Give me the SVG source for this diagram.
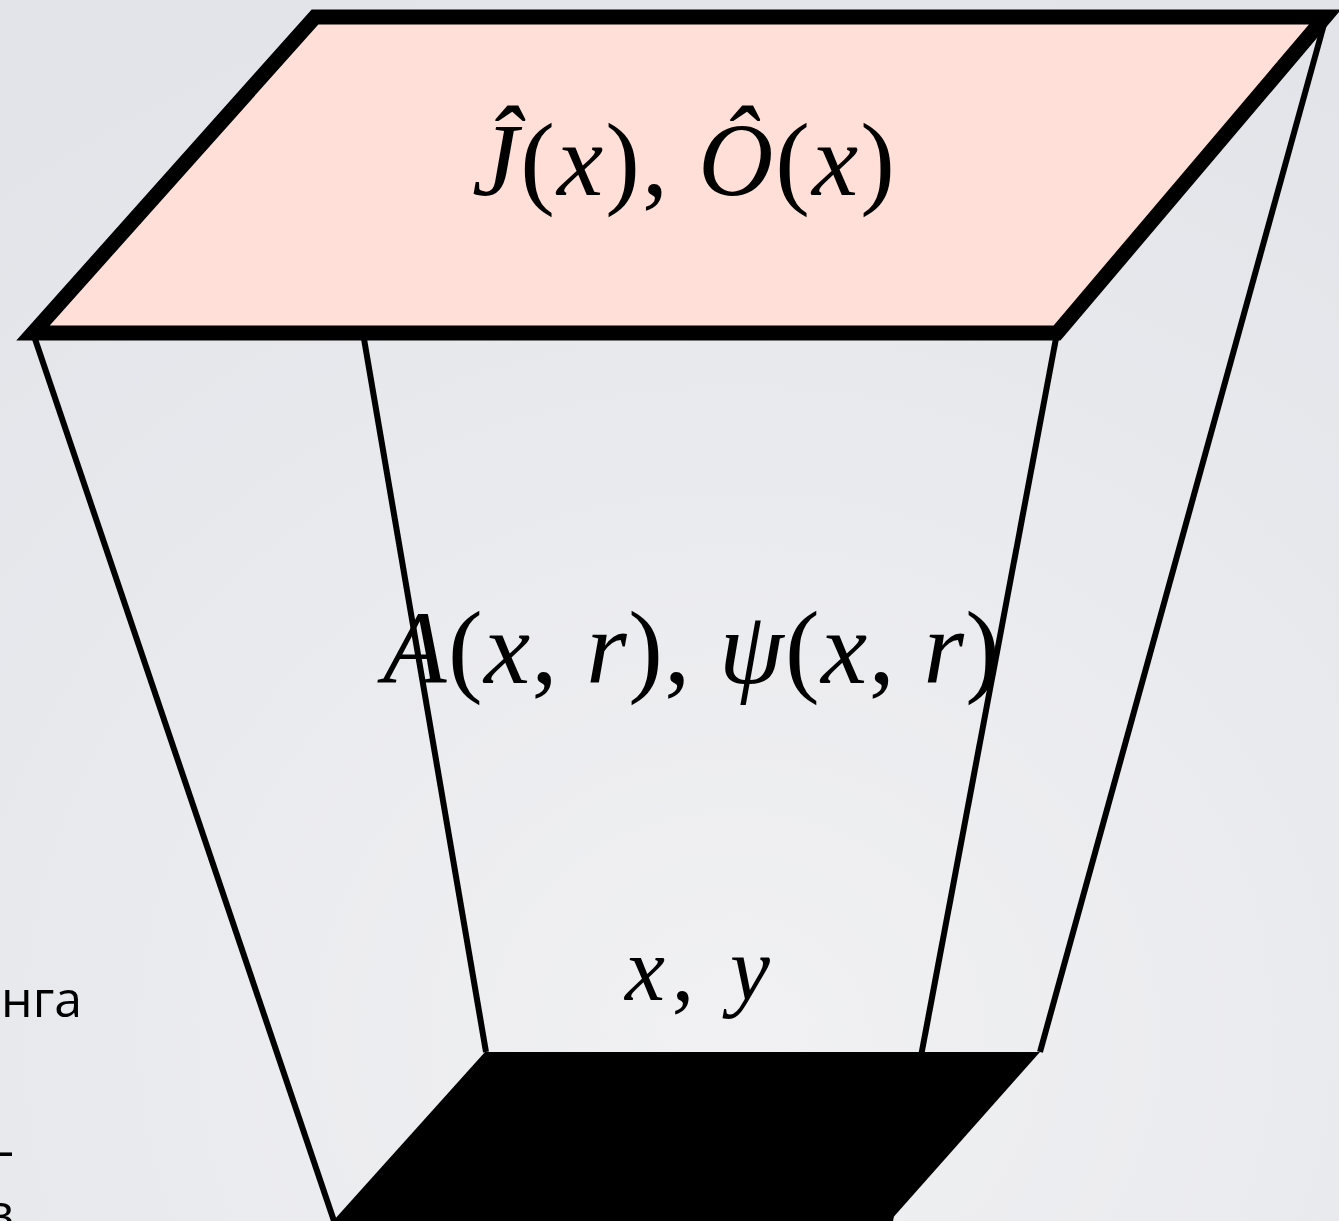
<svg xmlns="http://www.w3.org/2000/svg" width="1339" height="1221" viewBox="0 0 1339 1221">
<defs>
<radialGradient id="bg" cx="0.55" cy="0.85" r="0.9">
<stop offset="0" stop-color="#F1F1F3"/>
<stop offset="1" stop-color="#E2E4E9"/>
</radialGradient>
</defs>
<style>
.edge{stroke:#000;stroke-width:6;fill:none;stroke-linecap:butt}
.math{fill:#000}
.side{fill:#000;font-size:50px}
</style>
<rect x="0" y="0" width="1339" height="1221" fill="url(#bg)"/>
<g id="side-text">
<text class="side" font-family="'Open Sans', sans-serif" x="82" y="1017" text-anchor="end">нга</text>
<text class="side" font-family="'Open Sans', sans-serif" text-anchor="end"><tspan x="14" y="1168">–</tspan><tspan x="14" y="1230">в</tspan></text>
</g>
<g id="connectors">
<line class="edge" x1="33" y1="333" x2="334" y2="1221"/>
<line class="edge" x1="363" y1="333" x2="486" y2="1052"/>
<line class="edge" x1="1057" y1="333" x2="890" y2="1221"/>
<line class="edge" x1="1326" y1="17" x2="1040" y2="1052"/>
</g>
<g id="top-plane">
<polygon points="315,17 1325,17 1057,333 33,333" fill="#FFDFD7" stroke="#000" stroke-width="15" stroke-linejoin="miter" stroke-miterlimit="10"/>
<text class="math" font-family="'Liberation Serif', 'Times New Roman', serif" x="472" y="195" font-size="104" textLength="423" lengthAdjust="spacing"><tspan font-style="italic">Ĵ</tspan>(<tspan font-style="italic">x</tspan>), <tspan font-style="italic">Ô</tspan>(<tspan font-style="italic">x</tspan>)</text>
</g>
<g id="middle-label">
<text class="math" font-family="'Liberation Serif', 'Times New Roman', serif" x="383" y="683" font-size="104" textLength="617" lengthAdjust="spacing"><tspan font-style="italic">A</tspan>(<tspan font-style="italic">x</tspan>, <tspan font-style="italic">r</tspan>), <tspan font-style="italic">ψ</tspan>(<tspan font-style="italic">x</tspan>, <tspan font-style="italic">r</tspan>)</text>
</g>
<g id="bottom-plane">
<polygon points="485,1052 1040,1052 882,1230 325,1230" fill="#000"/>
<text class="math" font-family="'Liberation Serif', 'Times New Roman', serif" x="625" y="1000" font-size="90" textLength="145" lengthAdjust="spacing"><tspan font-style="italic">x</tspan>, <tspan font-style="italic">y</tspan></text>
</g>
</svg>
